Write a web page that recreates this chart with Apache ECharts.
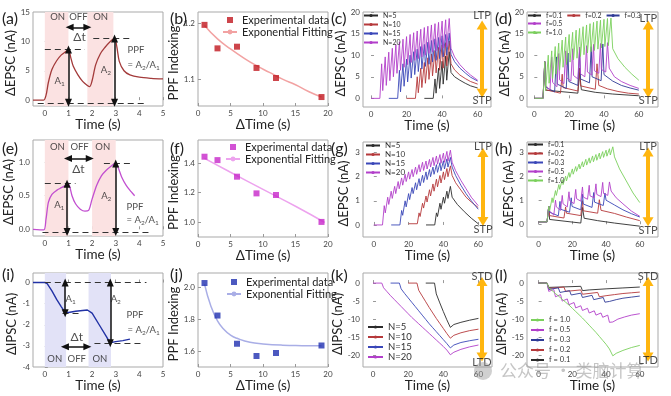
<!DOCTYPE html>
<html><head><meta charset="utf-8">
<script src="https://cdn.jsdelivr.net/npm/echarts@6/dist/echarts.min.js"></script>
<style>html,body{margin:0;padding:0;background:#fff}#c{width:671px;height:396px}</style>
</head><body><div id="c"></div>
<script>
// ---------------- DATA ----------------
// tick labels
const ticksT5 = [0, 1, 2, 3, 4, 5];
const ticksD20 = [0, 5, 10, 15, 20];
const ticksT60 = [0, 20, 40, 60];
const aYTicks = [0, 5, 10, 15];
const bYTicks = [1.1, 1.2];
const cYTicks = [0, 5, 10, 15, 20];
const eYTicks = [0, 0.5, 1.0];
const fYTicks = [1.0, 1.2, 1.4];
const gYTicks = [0, 1, 2, 3];
const iYTicks = [-4, -3, -2, -1, 0];
const jYTicks = [1.6, 1.8, 2.0];
const kYTicks = [-20, -15, -10, -5, 0];

// (a) paired-pulse EPSC
const aTime = [-0.5, -0.05, 0.05, 0.15, 0.3, 0.5, 0.7, 0.9, 1.0, 1.1, 1.2, 1.4, 1.6, 1.8, 1.9, 2.0, 2.15, 2.35, 2.55, 2.75, 2.95, 3.05, 3.15, 3.35, 3.6, 4.0, 4.5, 5.0];
const aEPSC = [0, 0, 0.8, 3.0, 5.2, 6.7, 7.7, 8.3, 8.6, 7.2, 5.8, 4.3, 3.2, 2.5, 2.3, 3.3, 6.0, 7.9, 9.0, 9.9, 10.5, 9.0, 6.6, 5.0, 4.3, 3.9, 3.7, 3.6];
const aOn = [[0, 1], [1.8, 2.9]];
// (b)
const bDelta = [1, 3, 6, 9, 12, 19];
const bPPF = [1.197, 1.155, 1.158, 1.120, 1.102, 1.068];
const bFitT = [1, 3, 5, 7, 9, 11, 13, 15, 17, 19];
const bFitV = [1.196, 1.172, 1.154, 1.138, 1.124, 1.112, 1.100, 1.090, 1.078, 1.068];
// (c) pulse number, EPSC
const cOnset = [35, 25, 15, 5];           // N=5, N=10, N=15, N=20
const cN5Peak = [4.5, 7.0, 8.6, 9.8, 10.8];
const cN5Base = [0, 1.2, 2.3, 3.3, 4.2];
const cN5Tail = [[45, 6.0], [47, 5.0], [50, 4.2], [53, 3.5], [56, 2.9], [60, 2.4]];
const cN10Peak = [5.0, 7.0, 8.3, 9.4, 10.3, 11.1, 11.8, 12.4, 12.9, 13.3];
const cN10Base = [0, 1.3, 2.5, 3.5, 4.4, 5.2, 5.9, 6.5, 7.0, 7.5];
const cN10Tail = [[45, 8.0], [47, 6.6], [50, 5.4], [53, 4.6], [56, 3.9], [60, 3.3]];
const cN15Peak = [6.5, 8.0, 9.1, 10.0, 10.8, 11.4, 12.0, 12.5, 13.0, 13.4, 13.8, 14.1, 14.5, 14.8, 15.1];
const cN15Base = [0, 1.5, 2.8, 3.8, 4.7, 5.5, 6.2, 6.8, 7.4, 7.9, 8.4, 8.8, 9.2, 9.6, 10.0];
const cN15Tail = [[45, 10.2], [47, 8.5], [50, 7.0], [53, 5.9], [56, 4.9], [60, 4.0]];
const cN20Peak = [8.0, 9.6, 10.7, 11.6, 12.4, 13.1, 13.7, 14.3, 14.8, 15.2, 15.6, 16.0, 16.4, 16.7, 17.0, 17.3, 17.6, 17.9, 18.2, 18.5];
const cN20Base = [0, 1.8, 3.0, 4.1, 5.0, 5.8, 6.5, 7.2, 7.8, 8.3, 8.8, 9.2, 9.6, 10.0, 10.4, 10.7, 11.0, 11.3, 11.6, 11.9];
const cN20Tail = [[45, 11.6], [47, 9.6], [50, 7.8], [53, 6.5], [56, 5.4], [60, 4.2]];
// (d) frequency, EPSC (onset 5 s); periods of f = 0.1, 0.2, 0.3, 0.5, 1.0
const dPeriod = [20, 10, 20 / 3, 4, 2];
const dF01Peak = [8.5, 6.0];
const dF01Base = [0, 1.2];
const dF01Post = [1.9];
const dF01Tail = [[27, 2.0], [35, 1.4], [45, 1.0], [60, 0.6]];
const dF02Peak = [8.5, 5.6, 7.0, 8.0];
const dF02Base = [0, 1.2, 1.7, 2.1];
const dF02Post = [2.0, 2.5, 2.9];
const dF02Tail = [[37, 3.0], [42, 2.2], [48, 1.6], [54, 1.2], [60, 1.0]];
const dF03Peak = [8.5, 9.6, 10.5, 11.3, 12.0, 12.6];
const dF03Base = [0, 1.5, 2.3, 3.0, 3.6, 4.1];
const dF03Post = [2.6, 3.3, 3.9, 4.5, 5.0];
const dF03Tail = [[40, 5.5], [45, 4.0], [50, 3.0], [55, 2.4], [60, 1.9]];
const dF05Peak = [8.5, 9.6, 10.4, 11.0, 11.5, 11.9, 12.2, 12.5, 12.7, 12.9];
const dF05Base = [0, 1.9, 2.7, 3.4, 4.0, 4.5, 5.0, 5.4, 5.8, 6.1];
const dF05Post = [3.0, 3.7, 4.3, 4.8, 5.3, 5.7, 6.1, 6.4, 6.7];
const dF05Tail = [[43, 7.0], [46, 5.0], [50, 3.9], [55, 3.0], [60, 2.3]];
const dF10Peak = [8.5, 10.0, 11.0, 12.0, 12.8, 13.5, 14.2, 14.8, 15.3, 15.8, 16.2, 16.6, 17.0, 17.3, 17.6, 17.9, 18.1, 18.3, 18.5, 18.6];
const dF10Base = [0, 1.8, 3.5, 4.6, 5.6, 6.5, 7.2, 7.8, 8.4, 8.9, 9.3, 9.7, 10.1, 10.5, 10.8, 11.1, 11.4, 11.7, 12.0, 12.2];
const dF10Tail = [[45, 11.5], [48, 9.2], [52, 7.2], [56, 5.6], [60, 4.2]];
// (e)
const eTime = [-0.5, -0.05, 0.05, 0.15, 0.3, 0.5, 0.7, 0.9, 0.97, 1.05, 1.15, 1.3, 1.5, 1.7, 1.85, 2.0, 2.2, 2.4, 2.6, 2.8, 2.97, 3.1, 3.25, 3.45, 3.65, 3.8];
const eEPSC = [0, -0.01, 0.15, 0.4, 0.52, 0.58, 0.62, 0.66, 0.69, 0.64, 0.5, 0.38, 0.3, 0.27, 0.28, 0.45, 0.66, 0.8, 0.88, 0.94, 0.98, 0.92, 0.78, 0.65, 0.56, 0.5];
const eOn = [[0, 1], [2, 3]];
// (f)
const fDelta = [1, 3, 6, 9, 12, 19];
const fPPF = [1.443, 1.42, 1.308, 1.195, 1.184, 1.002];
const fFitT = [1, 5, 10, 15, 19.5];
const fFitV = [1.432, 1.338, 1.222, 1.108, 0.998];
// (g)
const gOnset = [35, 25, 15, 5];
const gN5Peak = [0.50, 0.90, 1.15, 1.40, 1.60];
const gN5Base = [0, 0.35, 0.65, 0.90, 1.10];
const gN5Tail = [[45, 1.15], [48, 0.85], [52, 0.55], [56, 0.28], [60, 0.05]];
const gN10Peak = [0.50, 0.90, 1.20, 1.46, 1.70, 1.90, 2.05, 2.20, 2.34, 2.45];
const gN10Base = [0.05, 0.35, 0.70, 0.95, 1.20, 1.40, 1.58, 1.74, 1.88, 2.00];
const gN10Tail = [[45, 2.05], [47, 1.75], [50, 1.45], [53, 1.15], [56, 0.95], [60, 0.72]];
const gN15Peak = [0.60, 1.00, 1.30, 1.55, 1.75, 1.92, 2.06, 2.20, 2.30, 2.40, 2.50, 2.58, 2.66, 2.74, 2.80];
const gN15Base = [0, 0.40, 0.75, 1.05, 1.30, 1.46, 1.62, 1.76, 1.88, 2.00, 2.10, 2.18, 2.25, 2.32, 2.40];
const gN15Tail = [[45, 2.40], [47, 2.05], [50, 1.65], [53, 1.30], [56, 1.00], [60, 0.65]];
const gN20Peak = [0.80, 1.15, 1.40, 1.60, 1.80, 1.95, 2.10, 2.20, 2.30, 2.40, 2.50, 2.60, 2.65, 2.72, 2.80, 2.86, 2.92, 2.98, 3.05, 3.10];
const gN20Base = [0, 0.50, 0.85, 1.10, 1.30, 1.50, 1.65, 1.80, 1.90, 2.00, 2.10, 2.20, 2.26, 2.32, 2.40, 2.46, 2.52, 2.56, 2.60, 2.65];
const gN20Tail = [[45, 2.60], [47, 2.25], [50, 1.85], [53, 1.50], [56, 1.15], [60, 0.80]];
// (h)
const hF01Peak = [0.75, 0.70];
const hF01Base = [0.10, 0.05];
const hF01Post = [0.20];
const hF01Tail = [[27, 0.25], [35, 0.15], [45, 0.05], [60, -0.08]];
const hF02Peak = [0.75, 0.72, 0.98, 1.02];
const hF02Base = [0.10, 0.26, 0.36, 0.46];
const hF02Post = [0.36, 0.46, 0.56];
const hF02Tail = [[37, 0.58], [45, 0.45], [52, 0.30], [60, 0.15]];
const hF03Peak = [0.75, 0.95, 1.10, 1.25, 1.32, 1.30];
const hF03Base = [0.10, 0.35, 0.50, 0.60, 0.70, 0.78];
const hF03Post = [0.50, 0.62, 0.74, 0.84, 0.92];
const hF03Tail = [[40, 1.00], [45, 0.80], [50, 0.60], [55, 0.44], [60, 0.30]];
const hF05Peak = [0.75, 1.00, 1.20, 1.35, 1.45, 1.55, 1.62, 1.68, 1.74, 1.76];
const hF05Base = [0.10, 0.38, 0.58, 0.72, 0.86, 0.96, 1.04, 1.10, 1.15, 1.20];
const hF05Post = [0.55, 0.72, 0.85, 0.97, 1.06, 1.13, 1.18, 1.24, 1.28];
const hF05Tail = [[43, 1.38], [46, 1.10], [50, 0.85], [55, 0.55], [60, 0.33]];
const hF10Peak = [0.75, 1.10, 1.40, 1.65, 1.85, 2.00, 2.15, 2.30, 2.40, 2.50, 2.60, 2.70, 2.76, 2.84, 2.90, 2.96, 3.02, 3.08, 3.14, 3.22];
const hF10Base = [0.10, 0.55, 0.90, 1.20, 1.45, 1.65, 1.80, 1.95, 2.08, 2.20, 2.30, 2.38, 2.46, 2.54, 2.60, 2.66, 2.72, 2.78, 2.83, 2.88];
const hF10Tail = [[45, 2.80], [48, 2.30], [52, 1.80], [56, 1.30], [60, 0.90]];
// (i) IPSC
const iTime = [-0.5, 0, 0.1, 0.3, 0.5, 0.7, 0.85, 1.0, 1.3, 1.8, 2.0, 2.3, 2.6, 2.75, 3.0, 3.3, 3.6];
const iIPSC = [0, 0, -0.05, -0.4, -0.8, -1.15, -1.4, -1.42, -1.36, -1.3, -1.45, -2.0, -2.55, -2.85, -2.8, -2.75, -2.68];
const iOn = [[0, 0.9], [1.85, 2.8]];
// (j)
const jDelta = [1, 3, 6, 9, 12, 19];
const jPPF = [2.027, 1.823, 1.646, 1.569, 1.588, 1.635];
const jFitT = [1, 2, 3, 4, 5, 6, 8, 10, 13, 16, 19];
const jFitV = [2.02, 1.88, 1.79, 1.735, 1.70, 1.68, 1.655, 1.645, 1.637, 1.634, 1.633];
// (k) IPSC staircase levels
const kOnset = [35, 25, 15, 5];
const kN5Level = [-3.0, -5.5, -7.9, -10.2, -12.3];
const kN5Tail = [[46, -11.5], [50, -10.9], [55, -10.3], [60, -9.8]];
const kN10Level = [-2.0, -3.6, -5.2, -6.8, -8.3, -9.8, -11.2, -12.6, -14.0, -15.3];
const kN10Tail = [[46, -14.5], [50, -13.8], [55, -13.2], [60, -12.8]];
const kN15Level = [-1.6, -2.9, -4.1, -5.3, -6.5, -7.7, -8.9, -10.1, -11.3, -12.4, -13.5, -14.6, -15.7, -16.8, -18.0];
const kN15Tail = [[46, -17.2], [50, -16.5], [55, -16.0], [60, -15.6]];
const kN20Level = [-1.3, -2.4, -3.5, -4.5, -5.5, -6.5, -7.5, -8.5, -9.5, -10.4, -11.3, -12.2, -13.1, -14.0, -14.9, -15.8, -16.7, -17.6, -18.6, -19.9];
const kN20Tail = [[46, -19.2], [50, -18.4], [55, -17.7], [60, -17.2]];
// (l) IPSC vs frequency
const lF10Min = [-1.3, -2.1, -2.9, -3.7, -4.5, -5.3, -6.1, -7.0, -7.9, -8.8, -9.7, -10.7, -11.7, -12.7, -13.7, -14.8, -15.9, -17.0, -18.3, -20.2];
const lF10Pre = [0, -1.1, -1.9, -2.7, -3.5, -4.3, -5.1, -5.9, -6.8, -7.7, -8.6, -9.5, -10.5, -11.5, -12.5, -13.5, -14.6, -15.7, -16.8, -18.1];
const lF10Tail = [[46, -19.5], [50, -18.7], [55, -17.9], [60, -17.3]];
const lF05Min = [-2.3, -3.8, -5.0, -6.0, -6.9, -7.6, -8.3, -8.9, -9.5, -10.9];
const lF05Pre = [0, -1.8, -3.2, -4.4, -5.4, -6.3, -7.0, -7.7, -8.3, -8.9];
const lF05Tail = [[44, -10.8], [47, -10.0], [51, -9.4], [55, -8.9], [60, -8.5]];
const lF03Min = [-1.8, -2.6, -3.3, -4.0, -4.6, -5.3];
const lF03Pre = [0, -1.3, -2.1, -2.8, -3.4, -4.0];
const lF03Tail = [[42, -5.1], [46, -4.6], [50, -4.2], [55, -3.9], [60, -3.6]];
const lF02Min = [-1.5, -2.3, -3.1, -3.8];
const lF02Pre = [0, -1.1, -1.9, -2.6];
const lF02Tail = [[40, -3.5], [45, -3.2], [50, -2.9], [55, -2.7], [60, -2.5]];
const lF01Min = [-1.2, -2.1];
const lF01Pre = [0, -0.9];
const lF01Tail = [[30, -1.9], [40, -1.6], [50, -1.35], [60, -1.1]];

// ---------------- BUILDERS ----------------
const FONT = 'Lato, "Liberation Sans", Arial, sans-serif';
const TXT = '#222';
const zip = (xs, ys) => xs.map((x, i) => [x, ys[i]]);
function pulseTrace(start, t0, period, base, peak, post, tail, rise, drop) {
  const pts = [[start, base[0]]];
  for (let i = 0; i < peak.length; i++) {
    const ts = t0 + i * period;
    pts.push([ts, base[i]]);
    pts.push([ts + rise, peak[i]]);
    if (i < peak.length - 1) {
      if (post) pts.push([ts + rise + drop, post[i]]);
      else if (drop) pts.push([ts + rise + drop, base[i + 1]]);
    }
  }
  return pts.concat(tail);
}
const stairBase = lv => [0].concat(lv.slice(0, -1));

const C = { k: '#2b2b2b', r: '#b5393b', b: '#3a47b8', nb: '#2f3a96', m: '#b23fca', g: '#7bd05c' };

const option = { animation: false, backgroundColor: '#fff', grid: [], xAxis: [], yAxis: [], legend: [], series: [], graphic: [] };

const layout = [
  [33, 12, 130, 94], [198, 12, 130, 94], [363, 12, 128, 95], [527, 12, 131, 95],
  [33, 140, 130, 96], [198, 140, 130, 97], [363, 142, 129, 95], [527, 142, 131, 95],
  [33, 273, 130, 94], [198, 273, 130, 94], [363, 273, 129, 94], [527, 273, 131, 94]
];
const f1 = v => v.toFixed(1);
const f0 = v => String(v);
const axes = [
  { x: [-0.5, 5], xt: ticksT5, xn: 'Time (s)', y: [-1, 15], yt: aYTicks, yn: 'ΔEPSC (nA)', yg: 12, yf: f0 },
  { x: [0, 20], xt: ticksD20, xn: 'ΔTime (s)', y: [1.052, 1.22], yt: bYTicks, yn: 'PPF Indexing', yg: 12, yf: f1 },
  { x: [-4.5, 67.5], xt: ticksT60, xn: 'Time (s)', y: [-2, 20], yt: cYTicks, yn: 'ΔEPSC (nA)', yg: 13, yf: f0 },
  { x: [-4.2, 71], xt: ticksT60, xn: 'Time (s)', y: [-2, 20], yt: cYTicks, yn: 'ΔEPSC (nA)', yg: 11, yf: f0 },
  { x: [-0.5, 5], xt: ticksT5, xn: 'Time (s)', y: [-0.1, 1.33], yt: eYTicks, yn: 'ΔEPSC (nA)', yg: 13, yf: f1 },
  { x: [0, 20], xt: ticksD20, xn: 'ΔTime (s)', y: [0.9, 1.556], yt: fYTicks, yn: 'PPF Indexing', yg: 12, yf: f1 },
  { x: [-6.2, 67.9], xt: ticksT60, xn: 'Time (s)', y: [-0.5, 3.44], yt: gYTicks, yn: 'ΔEPSC (nA)', yg: 13, yf: f0 },
  { x: [-6.9, 70.8], xt: ticksT60, xn: 'Time (s)', y: [-0.53, 3.42], yt: gYTicks, yn: 'ΔEPSC (nA)', yg: 11, yf: f0 },
  { x: [-0.5, 5], xt: ticksT5, xn: 'Time (s)', y: [-4, 0.45], yt: iYTicks, yn: 'ΔIPSC (nA)', yg: 15, yf: f0 },
  { x: [0, 20], xt: ticksD20, xn: 'ΔTime (s)', y: [1.5, 2.09], yt: jYTicks, yn: 'PPF Indexing', yg: 12, yf: f1 },
  { x: [-5.7, 67.7], xt: ticksT60, xn: 'Time (s)', y: [-23.3, 2.8], yt: kYTicks, yn: 'ΔIPSC (nA)', yg: 14, yf: f0 },
  { x: [-6.9, 70.8], xt: ticksT60, xn: 'Time (s)', y: [-23.3, 2.8], yt: kYTicks, yn: 'ΔIPSC (nA)', yg: 13, yf: f0 }
];
axes.forEach((a, gi) => {
  const L = layout[gi];
  option.grid.push({ left: L[0], top: L[1], width: L[2], height: L[3], show: true, borderColor: '#a9a9a9', borderWidth: 1 });
  const tick = vals => ({ show: true, inside: true, length: 3, lineStyle: { color: '#999' }, customValues: vals });
  option.xAxis.push({
    type: 'value', gridIndex: gi, min: a.x[0], max: a.x[1], name: a.xn, nameLocation: 'middle', nameGap: gi >= 8 ? 6 : 7,
    nameTextStyle: { fontFamily: FONT, fontSize: 13.5, color: TXT },
    axisLine: { show: false }, splitLine: { show: false }, axisTick: tick(a.xt),
    axisLabel: { fontFamily: FONT, fontSize: 8, color: '#444', margin: 3, customValues: a.xt, formatter: f0 }
  });
  option.yAxis.push({
    type: 'value', gridIndex: gi, min: a.y[0], max: a.y[1], name: a.yn, nameLocation: 'middle', nameGap: a.yg,
    nameTextStyle: { fontFamily: FONT, fontSize: 13, color: TXT, padding: [0, 0, 0, -8] },
    axisLine: { show: false }, splitLine: { show: false }, axisTick: tick(a.yt),
    axisLabel: { fontFamily: FONT, fontSize: 8, color: '#444', margin: 3, customValues: a.yt, formatter: a.yf }
  });
});

function line(gi, name, pts, color, width, extra) {
  return Object.assign({ type: 'line', name, xAxisIndex: gi, yAxisIndex: gi, data: pts, symbol: 'none', showSymbol: false,
    lineStyle: { color, width: width || 1 }, itemStyle: { color }, silent: true, z: 3 }, extra || {});
}
function squares(gi, name, pts, color) {
  return { type: 'scatter', name, xAxisIndex: gi, yAxisIndex: gi, data: pts, symbol: 'rect', symbolSize: 6, itemStyle: { color }, silent: true, z: 4 };
}
const RICH = {
  n: { fontFamily: FONT, fontSize: 9.5, color: TXT, lineHeight: 13 },
  s: { fontFamily: FONT, fontSize: 6.5, color: TXT, lineHeight: 13, verticalAlign: 'bottom' },
  big: { fontFamily: FONT, fontSize: 12, color: TXT, lineHeight: 14 },
  lab: { fontFamily: FONT, fontSize: 11, color: TXT, lineHeight: 13 }
};
// annotation text (positions in data coords) + arrow lines
function annot(gi, items, arrows, arrowStyle) {
  const s = {
    type: 'scatter', xAxisIndex: gi, yAxisIndex: gi, symbolSize: 0, silent: true, z: 6,
    data: items.map(it => ({ value: [it[0], it[1]], label: { show: true, formatter: it[2], position: it[3] || 'inside', distance: 0, rich: RICH } }))
  };
  if (arrows && arrows.length) {
    s.markLine = Object.assign({ silent: true, animation: false, symbol: ['triangle', 'triangle'], symbolSize: [7, 8], label: { show: false },
      emphasis: { disabled: true }, lineStyle: { color: '#111', width: 1.5, type: 'solid' },
      data: arrows.map(ar => [{ coord: ar[0] }, { coord: ar[1] }]) }, arrowStyle || {});
  }
  return s;
}
function dashes(gi, segs) {
  return { type: 'line', xAxisIndex: gi, yAxisIndex: gi, data: [segs[0][0]], symbol: 'none', lineStyle: { opacity: 0 }, silent: true, z: 5,
    markLine: { silent: true, animation: false, symbol: ['none', 'none'], label: { show: false }, emphasis: { disabled: true },
      lineStyle: { color: '#333', width: 1, type: [6, 4] }, data: segs.map(sg => [{ coord: sg[0] }, { coord: sg[1] }]) } };
}
function orange(gi, x, y0, y1, topText, botText, yt, yb) {
  return annot(gi, [[x, yt, '{lab|' + topText + '}'], [x, yb, '{lab|' + botText + '}']], [[[x, y0], [x, y1]]],
    { symbolSize: [11, 9], lineStyle: { color: '#FFB60F', width: 4, type: 'solid' } });
}
const shade = (wins, color) => ({ silent: true, itemStyle: { color }, data: wins.map(w => [{ xAxis: w[0] }, { xAxis: w[1] }]) });
const fmtLeg = n => n.split('#')[0];
function legend(left, top, names, opts) {
  return Object.assign({ left, top, orient: 'vertical', itemWidth: 14, itemHeight: 4, itemGap: 0, selectedMode: false, padding: 0,
    formatter: fmtLeg, textStyle: { fontFamily: FONT, fontSize: 7, color: '#333', lineHeight: 9 }, data: names }, opts || {});
}
const SQ = 'path://M0,0H8V8H0Z';

// ---- (a)
option.series.push(line(0, 'a', zip(aTime, aEPSC), '#a33a3a', 1.3, { smooth: 0.3, markArea: shade(aOn, '#fbe2e2') }));
option.series.push(dashes(0, [[[0, 8.6], [1.7, 8.6]], [[2.05, 10.5], [3.7, 10.5]], [[-0.3, -0.45], [4.3, -0.45]]]));
option.series.push(annot(0, [
  [0.54, 14.1, '{n|ON}'], [1.42, 14.1, '{n|OFF}'], [2.36, 14.1, '{n|ON}'],
  [1.47, 10.8, '{big|Δt}'], [0.63, 3.2, '{n|A}{s|1}'], [2.58, 5.2, '{n|A}{s|2}'],
  [3.5, 8.6, '{n|PPF}', 'right'], [3.5, 6.0, '{n|= A}{s|2}{n|/A}{s|1}', 'right']
], [[[1.0, 8.6], [1.0, -0.45]], [[2.95, 10.5], [2.95, -0.45]], [[1.05, 12.4], [1.8, 12.4]]]));
// ---- (b)
option.series.push(line(1, 'Exponential Fitting#b', zip(bFitT, bFitV), '#f2a2a2', 1.5, { smooth: true }));
option.series.push(squares(1, 'Experimental data#b', zip(bDelta, bPPF), '#c0161e'));
option.legend.push(legend(222, 14, [{ name: 'Experimental data#b', icon: SQ }, 'Exponential Fitting#b'],
  { itemHeight: 6, textStyle: { fontFamily: FONT, fontSize: 11, color: '#222', lineHeight: 12 } }));
// ---- (c)
const cTraces = [[cN5Base, cN5Peak, cN5Tail, C.k, 'N=5#c'], [cN10Base, cN10Peak, cN10Tail, C.r, 'N=10#c'],
  [cN15Base, cN15Peak, cN15Tail, C.b, 'N=15#c'], [cN20Base, cN20Peak, cN20Tail, C.m, 'N=20#c']];
cTraces.forEach((t, i) => option.series.push(line(2, t[4], pulseTrace(cOnset[i] - 5, cOnset[i], 2, t[0], t[1], null, t[2], 1, 0.6), t[3], 0.9)));
option.series.push(orange(2, 62.5, 17.0, 1.2, 'LTP', 'STP', 19.1, -0.4));
option.legend.push(legend(363, 11, cTraces.map(t => t[4])));
// ---- (d)
const dTraces = [[dF01Base, dF01Peak, dF01Post, dF01Tail, C.k, 'f=0.1#d'], [dF02Base, dF02Peak, dF02Post, dF02Tail, C.r, 'f=0.2#d'],
  [dF03Base, dF03Peak, dF03Post, dF03Tail, C.nb, 'f=0.3#d'], [dF05Base, dF05Peak, dF05Post, dF05Tail, C.m, 'f=0.5#d'],
  [dF10Base, dF10Peak, null, dF10Tail, C.g, 'f=1.0#d']];
dTraces.forEach((t, i) => option.series.push(line(3, t[5], pulseTrace(0, 5, dPeriod[i], t[0], t[1], t[2], t[3], 1, 0.5), t[4], 0.9)));
option.series.push(orange(3, 65.4, 17.0, 1.2, 'LTP', 'STP', 18.6, -0.4));
option.legend.push(legend(527, 11, ['f=0.1#d', 'f=0.2#d', 'f=0.3#d'], { orient: 'horizontal', itemWidth: 13, itemGap: 4 }));
option.legend.push(legend(527, 19, ['f=0.5#d', 'f=1.0#d'], { itemWidth: 13 }));
// ---- (e)
option.series.push(line(4, 'e', zip(eTime, eEPSC), '#c24fd0', 1.3, { smooth: 0.3, markArea: shade(eOn, '#fbe2e2') }));
option.series.push(dashes(4, [[[0, 0.68], [1.3, 0.68]], [[2.5, 0.98], [3.75, 0.98]], [[-0.1, -0.04], [4.4, -0.04]]]));
option.series.push(annot(4, [
  [0.53, 1.23, '{n|ON}'], [1.47, 1.23, '{n|OFF}'], [2.45, 1.23, '{n|ON}'],
  [1.42, 0.89, '{big|Δt}'], [0.61, 0.36, '{n|A}{s|1}'], [2.6, 0.5, '{n|A}{s|2}'],
  [3.46, 0.34, '{n|PPF}', 'right'], [3.46, 0.14, '{n|= A}{s|2}{n|/A}{s|1}', 'right']
], [[[0.94, 0.68], [0.94, -0.04]], [[3.0, 0.98], [3.0, -0.04]], [[0.98, 1.055], [1.9, 1.055]]]));
// ---- (f)
option.series.push(line(5, 'Exponential Fitting#f', zip(fFitT, fFitV), '#eda3ee', 1.5, { smooth: true }));
option.series.push(squares(5, 'Experimental data#f', zip(fDelta, fPPF), '#c727c9'));
option.legend.push(legend(225, 141, [{ name: 'Experimental data#f', icon: SQ }, 'Exponential Fitting#f'],
  { itemHeight: 6, textStyle: { fontFamily: FONT, fontSize: 11, color: '#222', lineHeight: 12 } }));
// ---- (g)
const gTraces = [[gN5Base, gN5Peak, gN5Tail, C.k, 'N=5#g'], [gN10Base, gN10Peak, gN10Tail, C.r, 'N=10#g'],
  [gN15Base, gN15Peak, gN15Tail, C.b, 'N=15#g'], [gN20Base, gN20Peak, gN20Tail, C.m, 'N=20#g']];
gTraces.forEach((t, i) => option.series.push(line(6, t[4], pulseTrace(gOnset[i] - 5, gOnset[i], 2, t[0], t[1], null, t[2], 1, 0.6), t[3], 0.9)));
option.series.push(orange(6, 62.7, 3.0, 0.14, 'LTP', 'STP', 3.25, -0.2));
option.legend.push(legend(365, 141, gTraces.map(t => t[4]), { textStyle: { fontFamily: FONT, fontSize: 8, color: '#333', lineHeight: 9 } }));
// ---- (h)
const hTraces = [[hF01Base, hF01Peak, hF01Post, hF01Tail, C.k, 'f=0.1#h'], [hF02Base, hF02Peak, hF02Post, hF02Tail, C.r, 'f=0.2#h'],
  [hF03Base, hF03Peak, hF03Post, hF03Tail, C.b, 'f=0.3#h'], [hF05Base, hF05Peak, hF05Post, hF05Tail, C.m, 'f=0.5#h'],
  [hF10Base, hF10Peak, null, hF10Tail, C.g, 'f=1.0#h']];
hTraces.forEach((t, i) => option.series.push(line(7, t[5], pulseTrace(0, 5, dPeriod[i], t[0], t[1], t[2], t[3], 1, 0.5), t[4], 0.9)));
option.series.push(orange(7, 64.9, 3.0, 0.1, 'LTP', 'STP', 3.24, -0.25));
option.legend.push(legend(527, 140, hTraces.map(t => t[5]), { itemWidth: 15 }));
// ---- (i)
option.series.push(line(8, 'i', zip(iTime, iIPSC), '#2232a5', 1.4, { markArea: shade(iOn, '#e2e2f7') }));
option.series.push(dashes(8, [[[0, 0], [4.3, 0]], [[0.75, -1.45], [1.55, -1.45]], [[2.1, -2.88], [4.15, -2.88]]]));
option.series.push(annot(8, [
  [0.42, -3.62, '{n|ON}'], [1.35, -3.62, '{n|OFF}'], [2.33, -3.62, '{n|ON}'],
  [1.35, -2.57, '{big|Δt}'], [1.09, -0.77, '{n|A}{s|1}'], [3.0, -0.77, '{n|A}{s|2}'],
  [3.46, -1.55, '{n|PPF}', 'right'], [3.5, -2.26, '{n|= A}{s|2}{n|/A}{s|1}', 'right']
], [[[0.86, 0], [0.86, -1.45]], [[2.77, 0], [2.77, -2.88]], [[0.85, -3.04], [1.8, -3.04]]]));
// ---- (j)
option.series.push(line(9, 'Exponential Fitting#j', zip(jFitT, jFitV), '#a9aee6', 1.5, { smooth: true }));
option.series.push(squares(9, 'Experimental data#j', zip(jDelta, jPPF), '#1f2fb0'));
option.legend.push(legend(226, 276, [{ name: 'Experimental data#j', icon: SQ }, 'Exponential Fitting#j'],
  { itemHeight: 6, textStyle: { fontFamily: FONT, fontSize: 11, color: '#222', lineHeight: 12 } }));
// ---- (k)
const kTraces = [[kN5Level, kN5Tail, C.k, 'N=5#k'], [kN10Level, kN10Tail, C.r, 'N=10#k'],
  [kN15Level, kN15Tail, C.b, 'N=15#k'], [kN20Level, kN20Tail, C.m, 'N=20#k']];
kTraces.forEach((t, i) => option.series.push(line(10, t[3], pulseTrace(kOnset[i] - 5, kOnset[i], 2, stairBase(t[0]), t[0], null, t[1], 1, 0), t[2], 0.9)));
option.series.push(orange(10, 62, 0.45, -20.5, 'STD', 'LTD', 1.8, -21.9));
option.legend.push(legend(367, 322, kTraces.map(t => t[3]), { itemWidth: 15, textStyle: { fontFamily: FONT, fontSize: 9.5, color: '#333', lineHeight: 10 } }));
// ---- (l)
const lTraces = [[lF01Pre, lF01Min, lF01Tail, C.k, 'f = 0.1#l'], [lF02Pre, lF02Min, lF02Tail, C.r, 'f = 0.2#l'],
  [lF03Pre, lF03Min, lF03Tail, C.nb, 'f = 0.3#l'], [lF05Pre, lF05Min, lF05Tail, C.m, 'f = 0.5#l'],
  [lF10Pre, lF10Min, lF10Tail, C.g, 'f = 1.0#l']];
lTraces.forEach((t, i) => option.series.push(line(11, t[4], pulseTrace(0, 5, dPeriod[i], t[0], t[1], null, t[2], 1, 0), t[3], 0.9)));
option.series.push(orange(11, 64.9, 0.45, -20.5, 'STD', 'LTD', 1.8, -21.5));
option.legend.push(legend(530, 315, lTraces.map(t => t[4]).reverse(), { itemWidth: 13, textStyle: { fontFamily: FONT, fontSize: 7.5, color: '#333', lineHeight: 10 } }));

// panel labels + watermark
[['(a)', 2, 19], ['(b)', 170, 19], ['(c)', 331, 19], ['(d)', 495, 19],
 ['(e)', 2, 149], ['(f)', 170, 149], ['(g)', 331, 149], ['(h)', 495, 149],
 ['(i)', 2, 275], ['(j)', 170, 275], ['(k)', 331, 276], ['(l)', 495, 276]].forEach(p => {
  option.graphic.push({ type: 'text', x: p[1], y: p[2], z: 100, style: { text: p[0], font: '16px ' + FONT, fill: '#222', verticalAlign: 'middle' } });
});
option.graphic.push({ type: 'circle', shape: { cx: 483, cy: 371, r: 9 }, z: 100, style: { fill: 'rgba(150,150,150,0.45)' } });
option.graphic.push({ type: 'text', x: 500, y: 371, z: 100, style: { text: '公众号 · 类脑计算', font: '17px "Noto Sans CJK SC"', fill: 'rgba(150,150,150,0.55)', verticalAlign: 'middle' } });

const chart = echarts.init(document.getElementById('c'), null, { renderer: 'canvas' });
chart.setOption(option);
</script></body></html>
